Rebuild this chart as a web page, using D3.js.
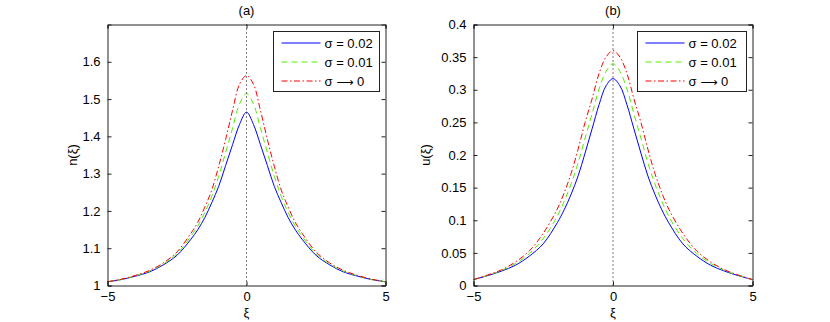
<!DOCTYPE html>
<html><head><meta charset="utf-8">
<script src="https://cdn.jsdelivr.net/npm/d3@7"></script>
<style>
body{margin:0;background:#fff;}
text{font-family:"Liberation Sans",Arial,Helvetica,sans-serif;}
</style></head>
<body><svg id="c" width="830" height="322"></svg>
<script>
const xi = [-5,-4.5,-4,-3.5,-3,-2.5,-2,-1.75,-1.5,-1.25,-1,-0.75,-0.5,-0.25,0,0.25,0.5,0.75,1,1.25,1.5,1.75,2,2.5,3,3.5,4,4.5,5];
// panel (a): n(xi)
const nSigma002 = [1.010,1.016,1.025,1.036,1.055,1.081,1.124,1.150,1.182,1.222,1.266,1.322,1.378,1.432,1.465,1.432,1.378,1.322,1.266,1.222,1.182,1.150,1.124,1.081,1.055,1.036,1.025,1.016,1.010];
const nSigma001 = [1.010,1.016,1.026,1.038,1.057,1.085,1.132,1.160,1.196,1.239,1.293,1.357,1.422,1.487,1.515,1.487,1.422,1.357,1.293,1.239,1.196,1.160,1.132,1.085,1.057,1.038,1.026,1.016,1.010];
const nSigma0   = [1.010,1.017,1.027,1.040,1.060,1.090,1.140,1.170,1.210,1.256,1.320,1.392,1.470,1.540,1.563,1.540,1.470,1.392,1.320,1.256,1.210,1.170,1.140,1.090,1.060,1.040,1.027,1.017,1.010];
// panel (b): u(xi)
const uSigma002 = [0.009,0.015,0.022,0.031,0.045,0.064,0.096,0.116,0.140,0.168,0.203,0.240,0.277,0.306,0.317,0.306,0.277,0.240,0.203,0.168,0.140,0.116,0.096,0.064,0.045,0.031,0.022,0.015,0.009];
const uSigma001 = [0.009,0.0155,0.023,0.0335,0.049,0.072,0.106,0.129,0.156,0.188,0.226,0.263,0.301,0.328,0.340,0.328,0.301,0.263,0.226,0.188,0.156,0.129,0.106,0.072,0.049,0.0335,0.023,0.0155,0.009];
const uSigma0   = [0.009,0.016,0.024,0.036,0.053,0.080,0.117,0.142,0.172,0.209,0.250,0.286,0.325,0.350,0.360,0.350,0.325,0.286,0.250,0.209,0.172,0.142,0.117,0.080,0.053,0.036,0.024,0.016,0.009];

const legendLabels = [["σ = 0.02"],["σ = 0.01"],["σ ","⟶"," 0"]];
const xTicks = [-5,0,5];
const nTicks = [1,1.1,1.2,1.3,1.4,1.5,1.6];
const uTicks = [0,0.05,0.1,0.15,0.2,0.25,0.3,0.35,0.4];

const styles = [
  {color:"#0000ff", dash:null},
  {color:"#55ee00", dash:"6,4"},
  {color:"#ff0000", dash:"6,2.5,1.5,2.5"}
];

const svg = d3.select("#c");
const fmtX = d => d < 0 ? "\u2212" + Math.abs(d) : String(d);

function panel(cfg){
  const {left,right,top,bottom,ydom,yticks,series,title,ylabel,lx0,lx1,ly0,ly1} = cfg;
  const x = d3.scaleLinear().domain([-5,5]).range([left,right]);
  const y = d3.scaleLinear().domain(ydom).range([bottom,top]);
  const g = svg.append("g");
  const line = d3.line().x((d,i)=>x(xi[i])).y(d=>y(d)).curve(d3.curveCatmullRom.alpha(0.5));
  series.forEach((s,k)=>{
    g.append("path").attr("d",line(s)).attr("fill","none")
      .attr("stroke",styles[k].color).attr("stroke-width",1)
      .attr("stroke-dasharray",styles[k].dash);
  });
  g.append("line").attr("x1",x(0)).attr("x2",x(0)).attr("y1",top).attr("y2",bottom)
    .attr("stroke","#000").attr("stroke-width",1).attr("stroke-dasharray","1,3");
  const tl = 4;
  g.append("g").attr("transform",`translate(0,${bottom})`)
    .call(d3.axisBottom(x).tickValues(xTicks).tickFormat(fmtX).tickSize(-tl).tickPadding(6));
  g.append("g").attr("transform",`translate(0,${top})`)
    .call(d3.axisTop(x).tickValues(xTicks).tickFormat("").tickSize(-tl));
  g.append("g").attr("transform",`translate(${left},0)`)
    .call(d3.axisLeft(y).tickValues(yticks).tickFormat(d=>String(+d.toFixed(2))).tickSize(-tl).tickPadding(7));
  g.append("g").attr("transform",`translate(${right},0)`)
    .call(d3.axisRight(y).tickValues(yticks).tickFormat("").tickSize(-tl));
  g.selectAll(".domain").attr("stroke","#222").attr("stroke-width",1);
  g.selectAll(".tick line").attr("stroke","#222");
  g.selectAll(".tick text").attr("font-size",13).attr("fill","#000")
    .attr("font-family","'Liberation Sans',Arial,sans-serif");
  g.append("text").attr("x",x(0)).attr("y",15).attr("text-anchor","middle").attr("font-size",13).text(title);
  g.append("text").attr("x",x(0)).attr("y",317).attr("text-anchor","middle").attr("font-size",13).text("ξ");
  g.append("text").attr("transform",`translate(${cfg.ylabX},${(top+bottom)/2}) rotate(-90)`)
    .attr("text-anchor","middle").attr("font-size",13).text(ylabel);
  const lg = g.append("g");
  lg.append("rect").attr("x",lx0).attr("y",ly0).attr("width",lx1-lx0).attr("height",ly1-ly0)
    .attr("fill","#fff").attr("stroke","#222").attr("stroke-width",1);
  const rows = [ly0+11.5, ly0+30.5, ly0+49.5];
  legendLabels.forEach((parts,k)=>{
    lg.append("line").attr("x1",lx0+8).attr("x2",lx0+47).attr("y1",rows[k]).attr("y2",rows[k])
      .attr("stroke",styles[k].color).attr("stroke-width",1).attr("stroke-dasharray",styles[k].dash);
    const t = lg.append("text").attr("x",lx0+51).attr("y",rows[k]+5).attr("font-size",13);
    parts.forEach(p=>{
      const ts = t.append("tspan").text(p);
      if (p === "⟶") ts.attr("font-family","'DejaVu Sans',sans-serif").attr("font-size",12);
    });
  });
}

panel({left:107.5,right:385.5,top:24.5,bottom:285.5,ydom:[1,1.7],yticks:nTicks,
  series:[nSigma002,nSigma001,nSigma0],title:"(a)",ylabel:"n(ξ)",ylabX:77,
  lx0:273.5,lx1:379.5,ly0:31.5,ly1:91.5});
panel({left:473.5,right:752.5,top:24.5,bottom:285.5,ydom:[0,0.4],yticks:uTicks,
  series:[uSigma002,uSigma001,uSigma0],title:"(b)",ylabel:"u(ξ)",ylabX:430,
  lx0:637.5,lx1:746.5,ly0:31.5,ly1:91.5});
</script></body></html>
